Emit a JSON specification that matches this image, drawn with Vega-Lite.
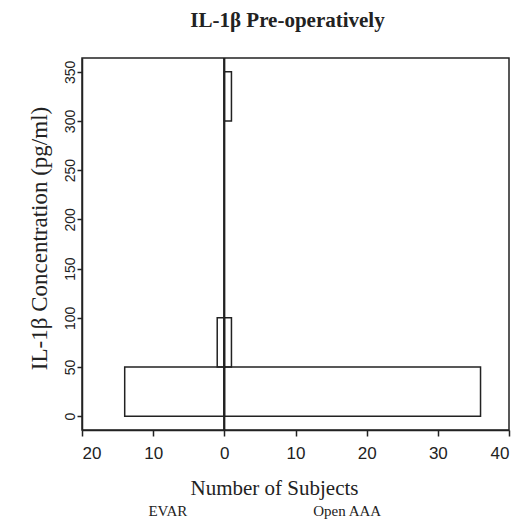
{
  "$schema": "https://vega.github.io/schema/vega-lite/v6.json",
  "width": 427,
  "height": 372,
  "autosize": "none",
  "padding": {"left": 82, "top": 58, "right": 9, "bottom": 94},
  "background": "white",
  "title": {
    "text": "IL-1β Pre-operatively",
    "font": "Liberation Serif",
    "fontSize": 21,
    "fontWeight": "bold",
    "color": "#222",
    "anchor": "middle",
    "dx": -8,
    "offset": 26
  },
  "config": {
    "view": {"stroke": "#222", "strokeWidth": 1.5},
    "axis": {
      "domainColor": "#222",
      "domainWidth": 1.5,
      "tickColor": "#222",
      "tickWidth": 1.5,
      "tickSize": 6,
      "grid": false,
      "labelColor": "#222",
      "titleColor": "#222",
      "labelFont": "Liberation Sans",
      "titleFont": "Liberation Serif",
      "titleFontWeight": "normal"
    }
  },
  "data": {
    "values": [
      {"group": "EVAR", "lo": 0, "hi": 50, "count": 14},
      {"group": "EVAR", "lo": 50, "hi": 100, "count": 1},
      {"group": "Open AAA", "lo": 0, "hi": 50, "count": 36},
      {"group": "Open AAA", "lo": 50, "hi": 100, "count": 1},
      {"group": "Open AAA", "lo": 300, "hi": 350, "count": 1}
    ]
  },
  "layer": [
    {
      "transform": [
        {"calculate": "datum.group === 'EVAR' ? -datum.count : datum.count", "as": "side_count"}
      ],
      "mark": {"type": "rect", "fill": "transparent", "stroke": "#222", "strokeWidth": 1.5},
      "encoding": {
        "x": {
          "field": "side_count",
          "type": "quantitative",
          "scale": {"domain": [-20, 40], "nice": false, "zero": false},
          "axis": {
            "values": [-20, -10, 0, 10, 20, 30, 40],
            "labelExpr": "abs(datum.value)",
            "labelFontSize": 17,
            "labelPadding": 9,
            "title": "Number of Subjects",
            "titleFontSize": 21,
            "titleX": 192,
            "titlePadding": 16
          }
        },
        "x2": {"datum": 0},
        "y": {
          "field": "lo",
          "type": "quantitative",
          "scale": {"domain": [-14, 364], "nice": false, "zero": false},
          "axis": {
            "values": [0, 50, 100, 150, 200, 250, 300, 350],
            "labelAngle": -90,
            "labelFontSize": 14,
            "labelPadding": 0,
            "tickSize": 5,
            "title": "IL-1β Concentration (pg/ml)",
            "titleFontSize": 23,
            "titlePadding": 12,
            "titleY": 180
          }
        },
        "y2": {"field": "hi"}
      }
    },
    {
      "mark": {"type": "rule", "stroke": "#222", "strokeWidth": 1.5},
      "encoding": {
        "x": {
          "datum": 0,
          "type": "quantitative",
          "axis": {
            "orient": "bottom",
            "offset": 73,
            "values": [-8, 17.2],
            "labelExpr": "datum.value < 0 ? 'EVAR' : 'Open AAA'",
            "labelFont": "Liberation Serif",
            "labelFontSize": 15,
            "labelPadding": 0,
            "domain": false,
            "ticks": false,
            "title": null
          }
        }
      }
    }
  ],
  "resolve": {"axis": {"x": "independent"}}
}
